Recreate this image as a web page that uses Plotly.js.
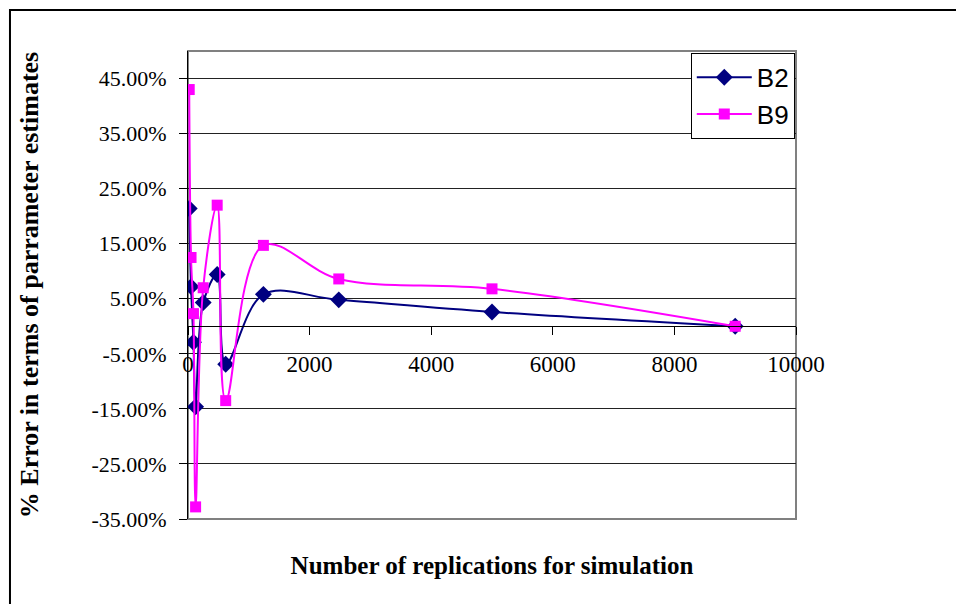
<!DOCTYPE html>
<html>
<head>
<meta charset="utf-8">
<script src="https://cdn.plot.ly/plotly-3.0.1.min.js"></script>
<style>
  html, body { margin: 0; padding: 0; background: #ffffff; }
  #chart { width: 956px; height: 604px; }
</style>
</head>
<body>
<div id="chart"></div>
<script>
// Data
const replications = [20, 50, 90, 125, 250, 480, 620, 1240, 2480, 5000, 9000];
const b2Error = [21.4, 7.2, -2.9, -14.6, 4.3, 9.4, -6.9, 5.8, 4.8, 2.6, 0.0];
const b9Error = [43.0, 12.5, 2.3, -32.8, 7.0, 22.0, -13.5, 14.7, 8.6, 6.8, 0.0];
const seriesNames = ["B2", "B9"];
const yTickValues = [-35, -25, -15, -5, 5, 15, 25, 35, 45];
const yTickLabels = ["-35.00%", "-25.00%", "-15.00%", "-5.00%", "5.00%", "15.00%", "25.00%", "35.00%", "45.00%"];
const xTickValues = [0, 2000, 4000, 6000, 8000, 10000];
const xTickLabels = ["0", "2000", "4000", "6000", "8000", "10000"];

const yMin = -35, yMax = 50;
const serif = "'Liberation Serif', 'Times New Roman', serif";
const sans = "'Liberation Sans', Arial, sans-serif";

const traces = [
  {
    x: replications, y: b2Error, name: seriesNames[0],
    type: "scatter", mode: "lines+markers",
    line: { color: "#000080", width: 2, shape: "spline", smoothing: 1 },
    marker: { symbol: "diamond", size: 13, color: "#000080" }
  },
  {
    x: replications, y: b9Error, name: seriesNames[1],
    type: "scatter", mode: "lines+markers",
    line: { color: "#FF00FF", width: 2, shape: "spline", smoothing: 1 },
    marker: { symbol: "square", size: 11, color: "#FF00FF" }
  }
];

const layout = {
  width: 956, height: 604,
  margin: { l: 188, r: 160, t: 51, b: 85 },
  paper_bgcolor: "#ffffff", plot_bgcolor: "#ffffff",
  showlegend: true,
  legend: {
    x: 0.998, xanchor: "right", y: 0.996, yanchor: "top",
    bgcolor: "#ffffff", bordercolor: "#000000", borderwidth: 1,
    itemwidth: 55,
    font: { family: sans, size: 26, color: "#000000" }
  },
  xaxis: {
    range: [0, 10000],
    tickvals: xTickValues, ticktext: xTickLabels,
    anchor: "free",
    position: (0 - yMin) / (yMax - yMin),
    showline: true, linecolor: "#000000", linewidth: 1,
    ticks: "outside", ticklen: 8, tickcolor: "#000000",
    ticklabelstandoff: 9,
    showgrid: false, zeroline: false,
    tickfont: { family: serif, size: 23, color: "#000000" },
    title: {
      text: "Number of replications for simulation",
      font: { family: serif, size: 25, color: "#000000", weight: "bold" },
      standoff: 180
    }
  },
  yaxis: {
    range: [yMin, yMax],
    tickvals: yTickValues, ticktext: yTickLabels,
    showline: true, linecolor: "#000000", linewidth: 1,
    ticks: "outside", ticklen: 8, tickcolor: "#000000",
    ticklabelstandoff: 8,
    showgrid: true, gridcolor: "#222222", gridwidth: 1,
    zeroline: false,
    tickfont: { family: serif, size: 22, color: "#000000" },
    title: {
      text: "% Error in terms of parrameter estimates",
      font: { family: serif, size: 26, color: "#000000", weight: "bold" },
      standoff: 45
    }
  },
  shapes: [
    { type: "rect", xref: "paper", yref: "paper", x0: 0, x1: 1, y0: 0, y1: 1,
      line: { color: "#808080", width: 2 }, layer: "below" },
    { type: "rect", xref: "paper", yref: "paper", x0: -0.2928, x1: 1.4, y0: -0.3, y1: 1.0876,
      line: { color: "#000000", width: 2 }, fillcolor: "rgba(0,0,0,0)", layer: "below" }
  ]
};

Plotly.newPlot("chart", traces, layout, { displayModeBar: false, staticPlot: true });
</script>
</body>
</html>
